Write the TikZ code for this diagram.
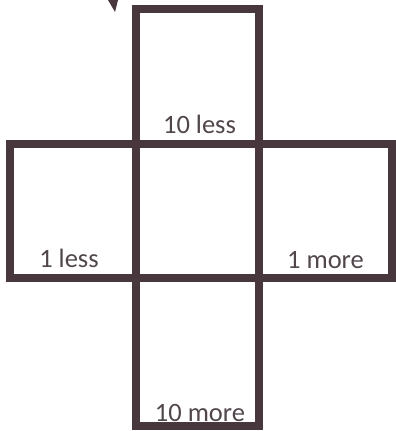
\documentclass[tikz,border=0pt]{standalone}
\usepackage{fontspec}
\setmainfont{Carlito}
\definecolor{ink}{RGB}{72,56,62}
\definecolor{txt}{RGB}{80,70,76}
\begin{document}
\begin{tikzpicture}[x=1pt,y=-1pt, cell/.style={draw=ink,line width=8pt,inner sep=0pt,outer sep=0pt}, lbl/.style={anchor=base,text=txt,font=\fontsize{26.5}{30}\selectfont,inner sep=0pt}]
\useasboundingbox (0,0) rectangle (396,431);
\node[cell,minimum width=123pt,minimum height=135pt] (top) at (197,76.5) {};
\node[cell,minimum width=125.5pt,minimum height=134pt] (left) at (72.75,211) {};
\node[cell,minimum width=123pt,minimum height=134pt] (mid) at (197,211) {};
\node[cell,minimum width=133.5pt,minimum height=134pt] (right) at (325.25,211) {};
\node[cell,minimum width=123pt,minimum height=148pt] (bot) at (197,352) {};
\node[lbl] (less10) at (199.5,133) {10 less};
\node[lbl] (less1) at (69,267) {1 less};
\node[lbl] (more1) at (325.5,268) {1 more};
\node[lbl] (more10) at (200,421) {10 more};
\fill[ink] (108,0) -- (118,0) -- (115,12) -- cycle;
\end{tikzpicture}
\end{document}
